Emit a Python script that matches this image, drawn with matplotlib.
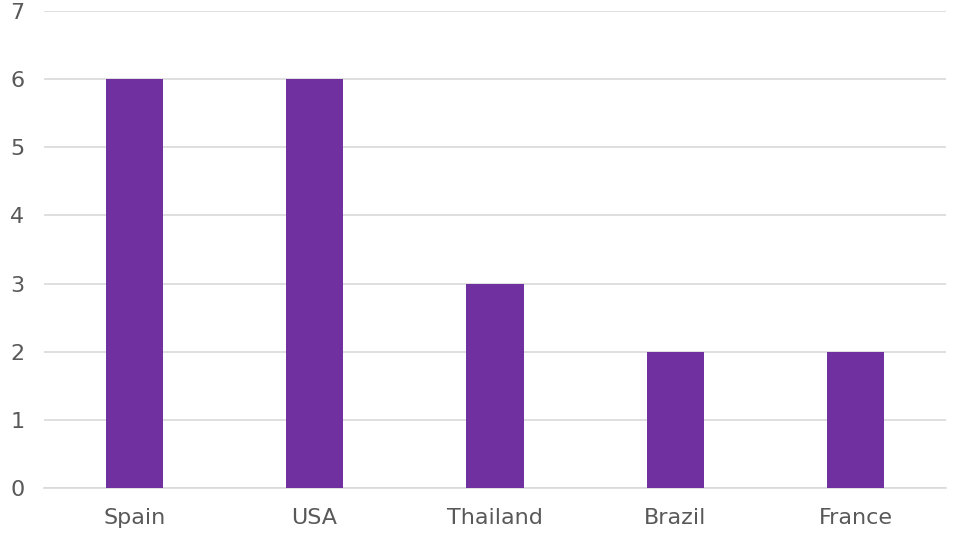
import matplotlib
matplotlib.use("Agg")
import matplotlib.pyplot as plt

countries = ["Spain", "USA", "Thailand", "Brazil", "France"]
counts = [6, 6, 3, 2, 2]
yticks = [0, 1, 2, 3, 4, 5, 6, 7]

bar_color = "#7030A0"
text_color = "#595959"
grid_color = "#d9d9d9"

plt.rcParams["font.family"] = ["DejaVu Sans"]

fig = plt.figure(figsize=(9.66, 5.46), dpi=100)
ax = fig.add_axes([44 / 966, 1 - 488 / 546, 902 / 966, 477 / 546])

x = range(len(countries))
ax.bar(x, counts, width=0.316, color=bar_color, zorder=3)

ax.set_xlim(-0.5, len(countries) - 0.5)
ax.set_ylim(0, 7)
ax.set_yticks(yticks)
ax.set_xticks(list(x))
ax.set_xticklabels(countries)

ax.grid(axis="y", color=grid_color, linewidth=1.2, zorder=0)
for side in ["top", "right", "left"]:
    ax.spines[side].set_visible(False)
ax.spines["bottom"].set_color(grid_color)
ax.spines["bottom"].set_linewidth(1.2)

ax.tick_params(axis="both", length=0, labelsize=16, labelcolor=text_color)
ax.tick_params(axis="y", pad=14)
ax.tick_params(axis="x", pad=14.5)

fig.savefig("out.png", dpi=100)
